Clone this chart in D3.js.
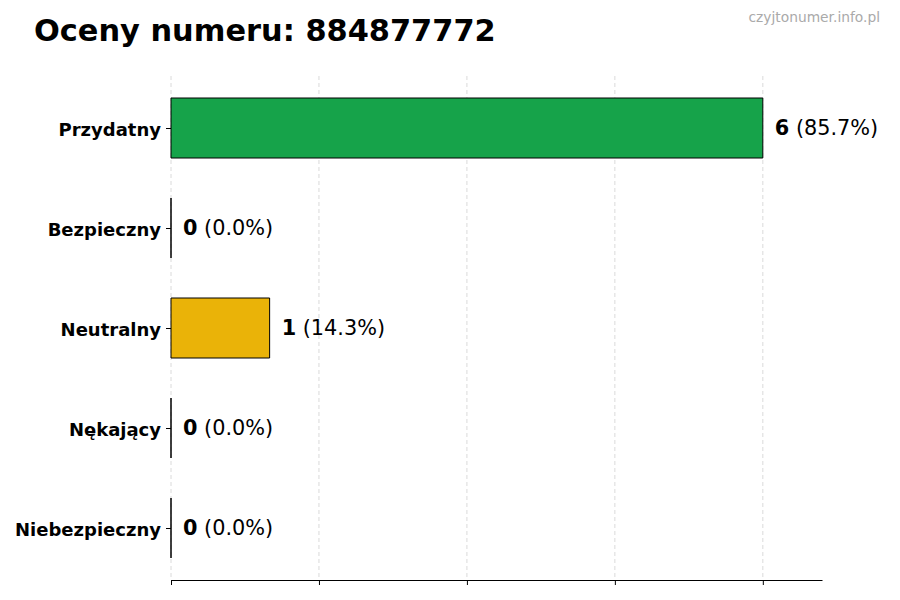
<!DOCTYPE html>
<html>
<head>
<meta charset="utf-8">
<script src="https://cdn.jsdelivr.net/npm/d3@7"></script>
<style>
  body { margin: 0; background: #fff; }
  svg { font-family: "DejaVu Sans", sans-serif; }
</style>
</head>
<body>
<svg id="chart" width="900" height="600"></svg>
<script>
// chart data
const categories = ['Przydatny', 'Bezpieczny', 'Neutralny', 'Nękający', 'Niebezpieczny'];
const counts = [6, 0, 1, 0, 0];
const percents = ['85.7%', '0.0%', '14.3%', '0.0%', '0.0%'];
const barColors = ['#16a34a', '#94a3b8', '#eab308', '#f97316', '#dc2626'];
const xTicks = [0, 1.5, 3, 4.5, 6];

const svg = d3.select('#chart');
const plotLeft = 171, plotRight = 822, plotTop = 76, plotBottom = 580;

// x scale: counts, y scale: category index
const x = d3.scaleLinear().domain([0, 6.6]).range([plotLeft, plotRight]);
const y = d3.scaleLinear().domain([-0.52, 4.52]).range([plotTop, plotBottom]);
const barH = y(0.3) - y(-0.3);

// title + watermark
svg.append('text')
    .attr('x', 34).attr('y', 41)
    .attr('font-size', 30.4).attr('font-weight', 'bold')
    .text('Oceny numeru: 884877772');

svg.append('text')
    .attr('x', 880).attr('y', 22)
    .attr('text-anchor', 'end')
    .attr('font-size', 13.8).attr('fill', '#aaa')
    .text('czyjtonumer.info.pl');

// dashed vertical grid
svg.append('g').selectAll('line')
    .data(xTicks)
    .join('line')
    .attr('x1', d => x(d)).attr('x2', d => x(d))
    .attr('y1', plotTop).attr('y2', plotBottom)
    .attr('stroke', '#d0d0d0')
    .attr('stroke-width', 0.8)
    .attr('stroke-dasharray', '4,3');

// bars as paths so zero-width bars still show their edge
svg.append('g').selectAll('path')
    .data(counts)
    .join('path')
    .attr('d', (d, i) => {
        const y0 = y(i) - barH / 2, y1 = y(i) + barH / 2;
        return `M${x(0)},${y0}H${x(d)}V${y1}H${x(0)}Z`;
    })
    .attr('fill', (d, i) => barColors[i])
    .attr('stroke', '#000')
    .attr('stroke-width', 1);

// value labels
const labels = svg.append('g').selectAll('text')
    .data(counts)
    .join('text')
    .attr('x', d => x(d) + 12)
    .attr('y', (d, i) => y(i))
    .attr('dy', '0.35em')
    .attr('font-size', 20.8);
labels.append('tspan').attr('font-weight', 'bold').text(d => d);
labels.append('tspan').text((d, i) => ' (' + percents[i] + ')');

// bottom axis: tick marks only
const xAxis = svg.append('g')
    .attr('transform', `translate(0,${plotBottom})`)
    .call(d3.axisBottom(x).tickValues(xTicks).tickFormat('').tickSize(5).tickSizeOuter(0));
xAxis.select('.domain').attr('stroke', '#000').attr('stroke-width', 1.2);

// left axis: labels + ticks, no spine
const yAxis = svg.append('g')
    .attr('transform', `translate(${plotLeft},0)`)
    .call(d3.axisLeft(y).tickValues(d3.range(categories.length))
        .tickFormat(i => categories[i]).tickSize(5).tickPadding(5));
yAxis.select('.domain').remove();
yAxis.selectAll('text')
    .attr('font-size', 18).attr('font-weight', 'bold')
    .attr('fill', '#000')
    .attr('dy', '0.4em')
    .attr('font-family', '"DejaVu Sans", sans-serif');
</script>
</body>
</html>
